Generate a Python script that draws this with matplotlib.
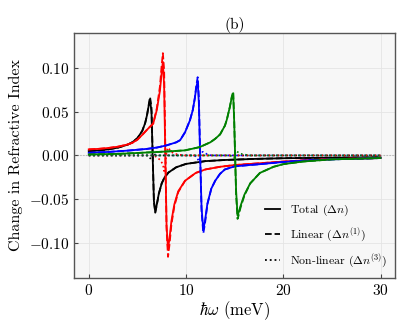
import numpy as np
import matplotlib
matplotlib.use("Agg")
import matplotlib.pyplot as plt
from matplotlib.lines import Line2D

plt.rcParams['font.family'] = 'serif'
plt.rcParams['font.serif'] = ['cmr10']
plt.rcParams['mathtext.fontset'] = 'cm'
plt.rcParams['axes.formatter.use_mathtext'] = True

# photon energy (meV) and Δn values, one set per curve colour
x_black = [0, 1, 2, 3, 4, 4.5, 5, 5.5, 5.8, 6.0, 6.15, 6.3, 6.45, 6.57, 6.7, 6.84,
           7.0, 7.2, 7.5, 7.8, 8.2, 9, 10, 12, 14, 17, 20, 25, 30]
tot_black = [0.0050, 0.0057, 0.0069, 0.0089, 0.0123, 0.0152, 0.0197, 0.0280, 0.0370,
             0.0465, 0.0560, 0.0638, 0.0500, 0.0, -0.0520, -0.0645, -0.0560, -0.0440,
             -0.0320, -0.0250, -0.0195, -0.0135, -0.0097, -0.0065, -0.0052, -0.0040,
             -0.0032, -0.0026, -0.0022]
nl_black = [0, 0, 0, 0, 0, 0, 0, 0, 0, 0, -0.001, -0.003, -0.005, -0.003, 0.001, 0.001,
            0.0005, 0, 0, 0, 0, 0, 0, 0, 0, 0, 0, 0, 0]

x_red = [0, 1, 2, 3, 4, 4.5, 5, 5.5, 6.0, 6.63, 7.0, 7.32, 7.5, 7.62, 7.75, 7.87, 8.0,
         8.15, 8.3, 8.5, 8.8, 9.2, 9.9, 11, 12, 13.5, 15, 17.5, 20, 22, 25, 30]
tot_red = [0.0069, 0.0075, 0.0085, 0.0100, 0.0125, 0.0145, 0.0180, 0.0235, 0.0295,
           0.0365, 0.0520, 0.0740, 0.0950, 0.1070, 0.0800, 0.0, -0.0800, -0.1070,
           -0.0950, -0.0750, -0.0560, -0.0410, -0.0290, -0.0200, -0.0160, -0.0130,
           -0.0110, -0.0090, -0.0070, -0.0057, -0.0042, -0.0030]
nl_red = [0, 0, 0, 0, 0, 0, 0, 0, 0, 0, -0.002, -0.005, -0.008, -0.010, -0.018, -0.012,
          0.004, 0.009, 0.007, 0.004, 0.002, 0.001, 0, 0, 0, 0, 0, 0, 0, 0, 0, 0]

x_blue = [0, 2, 4, 6, 7, 8, 9, 9.4, 9.9, 10.4, 10.7, 10.9, 11.05, 11.2, 11.32, 11.45,
          11.6, 11.78, 11.95, 12.2, 12.6, 13.0, 13.5, 14.0, 15, 16.5, 17.6, 20, 22, 25, 30]
tot_blue = [0.0030, 0.0040, 0.0055, 0.0075, 0.0090, 0.0115, 0.0150, 0.0175, 0.0265,
            0.0400, 0.0520, 0.0650, 0.0770, 0.0855, 0.0600, 0.0, -0.0600, -0.0850,
            -0.0750, -0.0550, -0.0380, -0.0290, -0.0210, -0.0160, -0.0125, -0.0110,
            -0.0100, -0.0075, -0.0060, -0.0045, -0.0030]
nl_blue = [0, 0, 0, 0, 0, 0, 0, 0, 0, 0, 0, 0, -0.002, -0.004, -0.007, -0.004, 0.004,
           0.004, 0.003, 0.001, 0, 0, 0, 0, 0, 0, 0, 0, 0, 0, 0]

x_green = [0, 3, 5, 8, 9.9, 11.4, 12.5, 13.0, 13.5, 14.0, 14.2, 14.5, 14.7, 14.85,
           14.95, 15.05, 15.15, 15.3, 15.45, 15.6, 16.0, 16.6, 17.6, 19, 20, 22, 25, 30]
tot_green = [0.0011, 0.0018, 0.0028, 0.0045, 0.0058, 0.0095, 0.0150, 0.0190, 0.0240,
             0.0340, 0.0410, 0.0550, 0.0660, 0.0710, 0.0400, 0.0, -0.0400, -0.0686,
             -0.0640, -0.0580, -0.0450, -0.0320, -0.0200, -0.0130, -0.0100, -0.0070,
             -0.0045, -0.0030]
nl_green = [0, 0, 0, 0, 0, 0, 0, 0, 0, 0, 0, 0, -0.001, -0.002, -0.003, 0.002, 0.005,
            0.004, 0.003, 0.002, 0.001, 0, 0, 0, 0, 0, 0, 0]

curves = [
    (x_black, tot_black, nl_black, 'black'),
    (x_red, tot_red, nl_red, 'red'),
    (x_blue, tot_blue, nl_blue, 'blue'),
    (x_green, tot_green, nl_green, 'green'),
]

fig = plt.figure(figsize=(4.12, 3.30), dpi=100)
ax = fig.add_axes([0.18, 0.158, 0.779, 0.742])
ax.set_facecolor('#f7f7f7')

ax.axhline(0, color='gray', ls=':', lw=0.8, alpha=0.6)

for x, tot, nl, c in curves:
    x = np.array(x)
    tot = np.array(tot)
    nl = np.array(nl)
    lin = tot - nl  # total = linear + non-linear
    ax.plot(x, tot, color=c, lw=1.3, ls='-')
    ax.plot(x, lin, color=c, lw=1.3, ls='--')
    ax.plot(x, nl, color=c, lw=1.2, ls=':')

ax.set_xlim(-1.5, 31.5)
ax.set_ylim(-0.14, 0.14)
ax.set_xticks([0, 10, 20, 30])
ax.set_yticks([-0.10, -0.05, 0.00, 0.05, 0.10])
ax.yaxis.set_major_formatter(matplotlib.ticker.FuncFormatter(
    lambda v, p: r'$%.2f$' % v))
ax.grid(True, color='#e4e4e4', lw=0.6)
ax.tick_params(direction='in', labelsize=11, length=3, color='#444444')
for s in ax.spines.values():
    s.set_color('#555555')
    s.set_linewidth(1.0)

ax.set_title('(b)', fontsize=11, pad=3)
ax.set_xlabel(r'$\hbar\omega$ (meV)', fontsize=12, labelpad=1)
ax.set_ylabel('Change in Refractive Index', fontsize=11.5)

handles = [Line2D([], [], color='black', lw=1.3, ls='-'),
           Line2D([], [], color='black', lw=1.3, ls='--'),
           Line2D([], [], color='black', lw=1.3, ls=':')]
labels = [r'Total ($\Delta n$)', r'Linear ($\Delta n^{(1)}$)',
          r'Non-linear ($\Delta n^{(3)}$)']
ax.legend(handles, labels, loc='lower right', frameon=False, fontsize=8.5,
          handlelength=1.3, handletextpad=0.8, labelspacing=0.6,
          borderaxespad=0.3)

fig.savefig('out.png', dpi=100)
